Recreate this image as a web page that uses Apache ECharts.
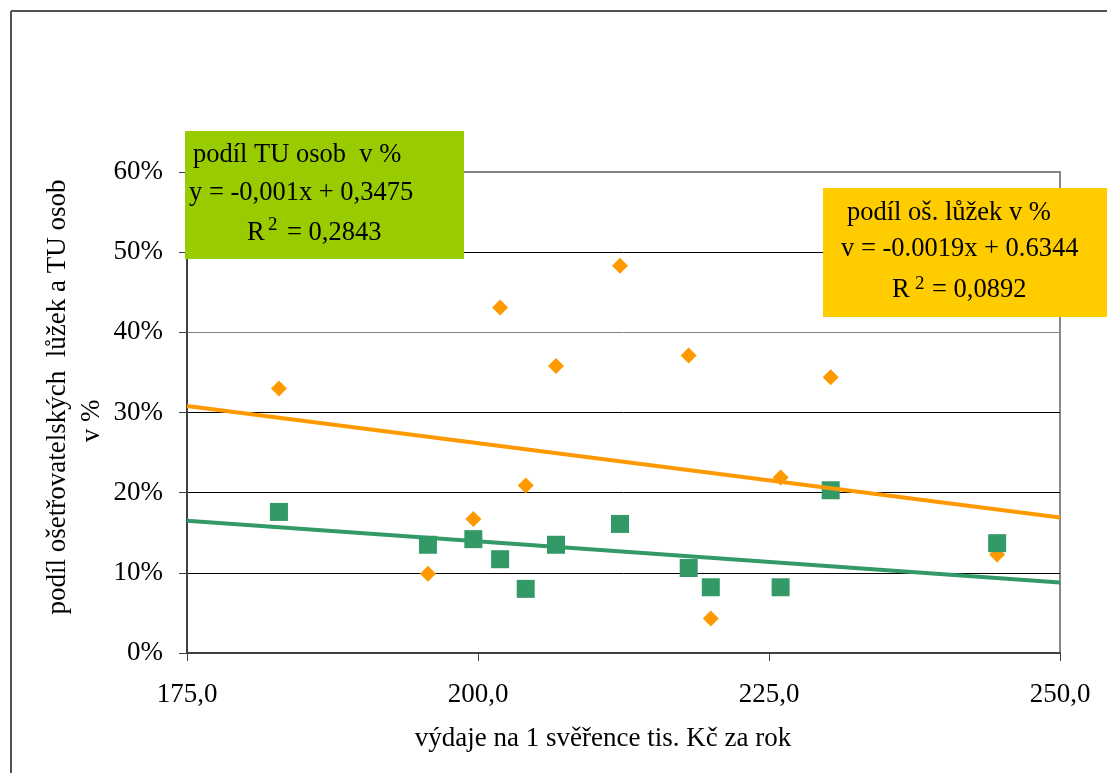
<!DOCTYPE html>
<html>
<head>
<meta charset="utf-8">
<script src="https://cdn.jsdelivr.net/npm/echarts@6/dist/echarts.min.js"></script>
<style>html,body{margin:0;padding:0;background:#fff;}#c{width:1107px;height:773px;}</style>
</head>
<body>
<div id="c"></div>
<script>
// ---- data ----
const spend = [182.9, 195.7, 199.6, 201.9, 204.1, 206.7, 212.2, 218.1, 220.0, 226.0, 230.3, 244.6];
const bedsShare = [33.0, 9.9, 16.7, 43.1, 20.9, 35.8, 48.3, 37.1, 4.3, 21.9, 34.4, 12.3];
const tuShare = [17.6, 13.5, 14.2, 11.7, 8.0, 13.5, 16.1, 10.6, 8.2, 8.2, 20.3, 13.7];
const trendX = [175, 250];
const bedsTrend = [30.8, 16.9];
const tuTrend = [16.5, 8.8];
const xTicks = [175, 200, 225, 250];
const yTicks = [0, 10, 20, 30, 40, 50, 60];

const F = '"Liberation Serif", "Times New Roman", serif';
const zip = (xs, ys) => xs.map((x, i) => [x, ys[i]]);

const chart = echarts.init(document.getElementById('c'));
const txt = (x, y, text, size, align) => ({
  type: 'text', z: 101,
  style: { x: x, y: y, text: text, font: size + 'px ' + F, fill: '#000', align: align || 'left', verticalAlign: 'middle' }
});

chart.setOption({
  animation: false,
  backgroundColor: '#fff',
  grid: { left: 187, top: 172, width: 873, height: 481, show: true, borderColor: '#888', borderWidth: 2, backgroundColor: 'transparent' },
  xAxis: {
    type: 'value', min: xTicks[0], max: xTicks[xTicks.length - 1], interval: 25,
    axisLine: { show: true, lineStyle: { color: '#404040', width: 2 } },
    axisTick: { show: true, inside: false, length: 8, lineStyle: { color: '#404040', width: 1 } },
    axisLabel: { margin: 28, fontFamily: F, fontSize: 27, color: '#000', formatter: v => v.toFixed(1).replace('.', ',') },
    splitLine: { show: false }
  },
  yAxis: {
    type: 'value', min: yTicks[0], max: yTicks[yTicks.length - 1], interval: 10,
    axisLine: { show: true, lineStyle: { color: '#404040', width: 2 } },
    axisTick: { show: true, inside: false, length: 8, lineStyle: { color: '#404040', width: 1 } },
    axisLabel: { margin: 24, fontFamily: F, fontSize: 27, color: '#000', formatter: v => v + '%' },
    splitLine: { show: true, lineStyle: { color: ['#000', '#000', '#000', '#000', '#808080', '#000', '#808080'], width: 1 } }
  },
  series: [
    { type: 'scatter', name: 'lůžka', data: zip(spend, bedsShare), symbol: 'diamond', symbolSize: 16,
      itemStyle: { color: '#FF9900', opacity: 1 }, z: 2 },
    { type: 'scatter', name: 'TU', data: zip(spend, tuShare), symbol: 'rect', symbolSize: 18,
      itemStyle: { color: '#339966', opacity: 1 }, z: 3 },
    { type: 'line', data: zip(trendX, tuTrend), showSymbol: false, symbol: 'none',
      lineStyle: { color: '#339966', width: 4 }, z: 4 },
    { type: 'line', data: zip(trendX, bedsTrend), showSymbol: false, symbol: 'none',
      lineStyle: { color: '#FF9900', width: 4 }, z: 5 }
  ],
  graphic: [
    // outer frame (top and left only)
    { type: 'line', z: 100, shape: { x1: 11, y1: 11, x2: 1107, y2: 11 }, style: { stroke: '#505050', lineWidth: 2 } },
    { type: 'line', z: 100, shape: { x1: 11, y1: 11, x2: 11, y2: 773 }, style: { stroke: '#505050', lineWidth: 2 } },
    // axis titles
    txt(603, 739, 'výdaje na 1 svěřence tis. Kč za rok', 27, 'center'),
    { type: 'text', z: 101, x: 58, y: 397, rotation: Math.PI / 2,
      style: { x: 0, y: 0, text: 'podíl ošetřovatelských  lůžek a TU osob', font: '27px ' + F, fill: '#000', align: 'center', verticalAlign: 'middle' } },
    { type: 'text', z: 101, x: 92, y: 421, rotation: Math.PI / 2,
      style: { x: 0, y: 0, text: 'v %', font: '27px ' + F, fill: '#000', align: 'center', verticalAlign: 'middle' } },
    // green box
    { type: 'rect', z: 100, shape: { x: 185, y: 131, width: 279, height: 128 }, style: { fill: '#99CC00' } },
    txt(193, 155, 'podíl TU osob  v %', 26.5),
    txt(189, 193, 'y = -0,001x + 0,3475', 26.5),
    txt(247, 233, 'R', 26.5),
    txt(268, 225, '2', 19),
    txt(287, 233, '= 0,2843', 26.5),
    // orange box
    { type: 'rect', z: 100, shape: { x: 823, y: 188, width: 284, height: 129 }, style: { fill: '#FFCC00' } },
    txt(847, 213, 'podíl oš. lůžek v %', 26.5),
    txt(841, 249, 'v = -0.0019x + 0.6344', 26.5),
    txt(892, 290, 'R', 26.5),
    txt(915, 284, '2', 19),
    txt(932, 290, '= 0,0892', 26.5)
  ]
});
</script>
</body>
</html>
